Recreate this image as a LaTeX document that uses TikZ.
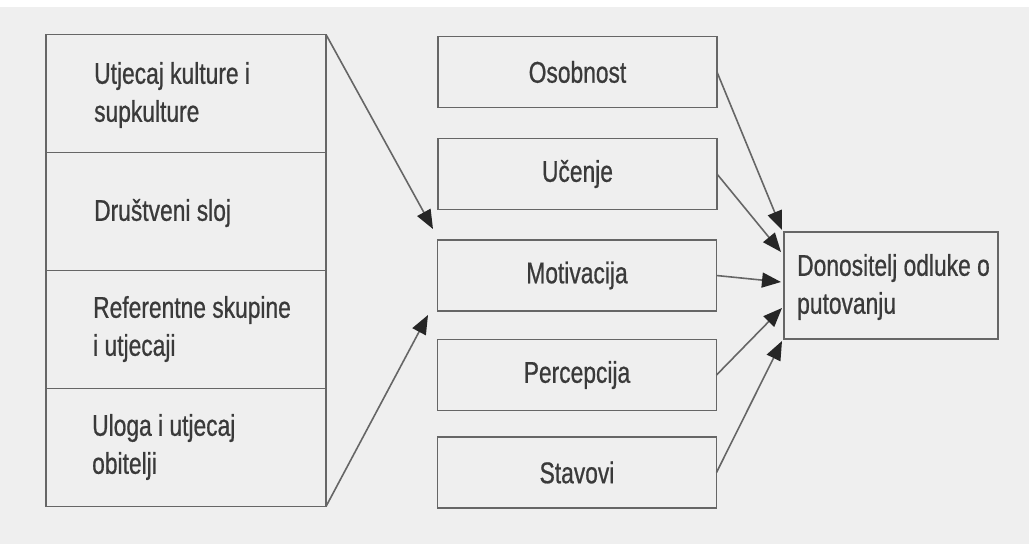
\documentclass[tikz,border=0pt]{standalone}
\usepackage{fontspec}
\newfontfamily\cf[FakeStretch=0.76,FakeBold=0.7]{Liberation Sans}
\usetikzlibrary{arrows.meta}
\definecolor{bg}{HTML}{EFEFEF}
\definecolor{ln}{HTML}{666666}
\definecolor{tx}{HTML}{3A3A3A}
\definecolor{ah}{HTML}{262626}
\tikzset{
  sect/.style={draw=ln,line width=1.8pt,minimum width=280pt,minimum height=118pt,inner sep=0pt,outer sep=0pt},
  midbox/.style={draw=ln,line width=1.8pt,minimum width=279pt,minimum height=71pt,inner sep=0pt,outer sep=0pt,
     font=\cf\fontsize{30}{38}\selectfont,text=tx},
  lbl/.style={anchor=west,align=left,font=\cf\fontsize{30}{38}\selectfont,text=tx,inner sep=0pt},
  conn/.style={draw=ln,line width=1.6pt,-{Triangle[length=19pt,width=15pt,fill=ah,color=ah]},shorten >=0pt},
}
\begin{document}
\begin{tikzpicture}[x=1pt,y=-1pt]
\useasboundingbox (0,0) rectangle (1029,544);
\fill[bg] (0,7) rectangle (1029,544);
% left stacked box
\node[sect] (L1) at (186,93.5) {};
\node[sect] (L2) at (186,211.5) {};
\node[sect] (L3) at (186,329.5) {};
\node[sect] (L4) at (186,447.5) {};
\node[lbl] (t1) at (94,95) {Utjecaj kulture i\\supkulture};
\node[lbl] (t2) at (94,213) {Društveni sloj};
\node[lbl] (t3) at (93,329) {Referentne skupine\\i utjecaji};
\node[lbl] (t4) at (92,447) {Uloga i utjecaj\\obitelji};
% middle boxes
\node[midbox] (oso) at (577.5,72) {Osobnost};
\node[midbox] (uce) at (577.5,174) {Učenje};
\node[midbox] (mot) at (577,275.5) {Motivacija};
\node[midbox] (per) at (577,375) {Percepcija};
\node[midbox] (sta) at (577,472.5) {Stavovi};
% right box
\node[draw=ln,line width=1.8pt,minimum width=214pt,minimum height=107pt,inner sep=0pt] (dec) at (891,285.5) {};
\node[lbl] (dect) at (797,287) {Donositelj odluke o\\putovanju};
% arrow tips
\coordinate (a1) at (433,229);
\coordinate (a2) at (428,315);
\coordinate (b1) at (782,230);
\coordinate (b2) at (781,252);
\coordinate (b3) at (781,282);
\coordinate (b4) at (782,308);
\coordinate (b5) at (782,341);
\draw[conn] (L1.north east) -- (a1);
\draw[conn] (L4.south east) -- (a2);
\draw[conn] (oso.east) -- (b1);
\draw[conn] (uce.east) -- (b2);
\draw[conn] (mot.east) -- (b3);
\draw[conn] (per.east) -- (b4);
\draw[conn] (sta.east) -- (b5);
\end{tikzpicture}
\end{document}
